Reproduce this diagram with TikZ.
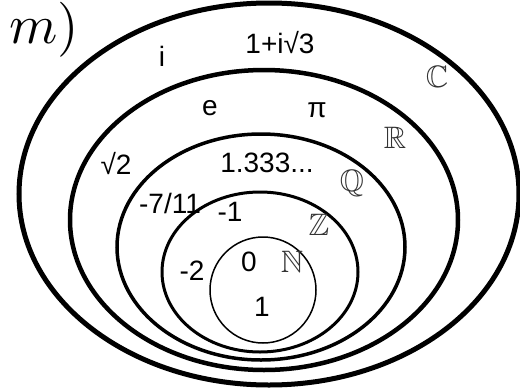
\documentclass[tikz,border=0pt]{standalone}
\usepackage{amssymb}
\usepackage{fontspec}
\setmainfont{Liberation Sans}
\usetikzlibrary{positioning}

\begin{document}
\begin{tikzpicture}[x=1pt,y=-1pt,
    setline/.style={black},
    num/.style={font=\fontsize{28}{28}\selectfont},
    setname/.style={black!80,font=\fontsize{31}{31}\selectfont}]
  \useasboundingbox (0,0) rectangle (520,389);
  % nested sets
  \draw[setline, line width=5pt]   (269,194) ellipse [x radius=250, y radius=191];
  \draw[setline, line width=4.5pt] (264,220) ellipse [x radius=194, y radius=150];
  \draw[setline, line width=3.5pt] (261,247) ellipse [x radius=144, y radius=113];
  \draw[setline, line width=3pt]   (260,272) ellipse [x radius=98, y radius=80];
  \draw[setline, line width=1.5pt] (263,290) circle (53);
  % set names
  \node[setname] (setC) at (437,77)  {$\mathbb{C}$};
  \node[setname] (setR) at (395,138) {$\mathbb{R}$};
  \node[setname] (setQ) at (352,183) {$\mathbb{Q}$};
  \node[setname] (setZ) at (319,225) {$\mathbb{Z}$};
  \node[setname] (setN) at (292,262) {$\mathbb{N}$};
  % elements
  \node[num] (imag)  at (162,56)  {i};
  \node[num] (cplx)  at (280,43)  {1+i√3};
  \node[num] (euler) at (210,108) {e};
  \node[num] (pi)    at (317,110) {π};
  \node[num] (sqrt2) at (116,164) {√2};
  \node[num] (dec)   at (267,163) {1.333...};
  \node[num] (frac)  at (170,203) {-7/11};
  \node[num] (minus1) at (230,212) {-1};
  \node[num] (minus2) at (192,271) {-2};
  \node[num] (zero)  at (249,262) {0};
  \node[num] (one)   at (262,307) {1};
  % panel label
  \node[scale=5.5, inner sep=0pt] (panel) at (44,30) {$m)$};
\end{tikzpicture}
\end{document}
